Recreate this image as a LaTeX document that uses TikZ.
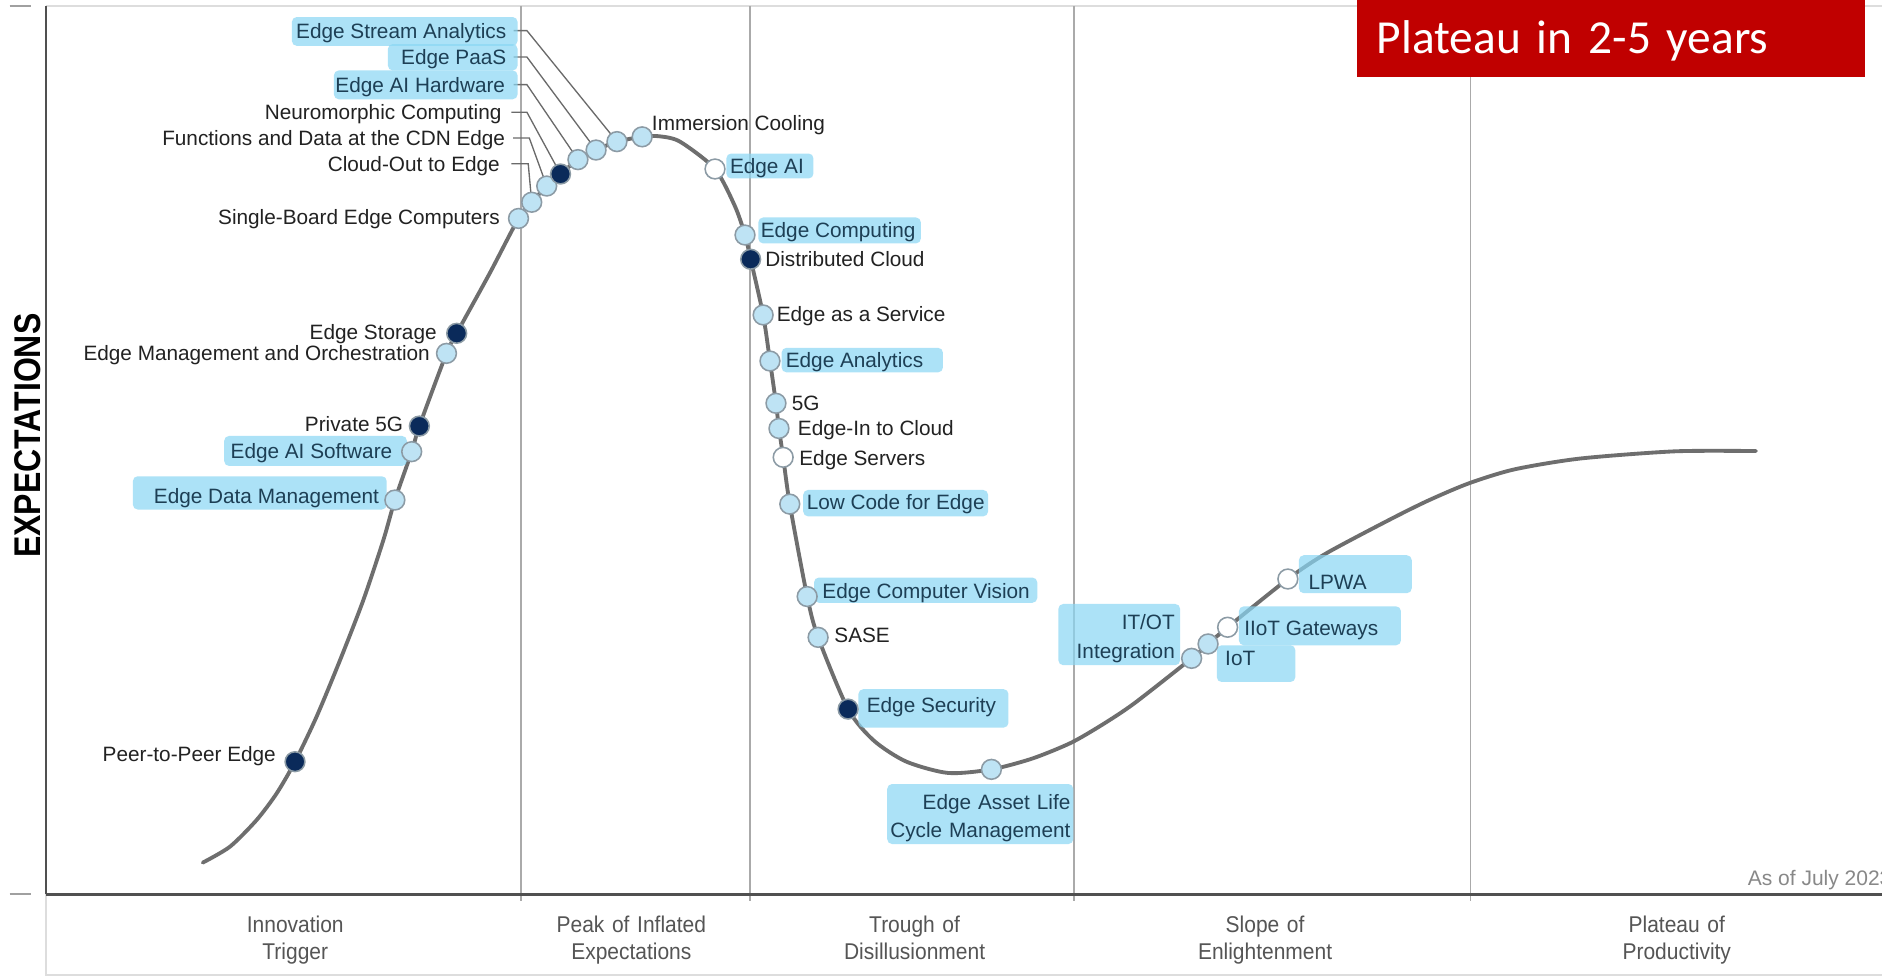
\documentclass[tikz,border=0pt]{standalone}
\usepackage{fontspec}
\setmainfont{Liberation Sans}
\newfontfamily\phasefont[FakeStretch=0.92]{Liberation Sans}
\newfontfamily\expfont[FakeStretch=0.86]{Liberation Sans}
\newfontfamily\plfont{Carlito}
\pgfdeclarelayer{bg}
\pgfdeclarelayer{lines}
\pgfsetlayers{bg,lines,main}
\definecolor{hlc}{HTML}{8AD7F4}
\definecolor{hltext}{HTML}{1D3F55}
\definecolor{lbltext}{HTML}{222222}
\definecolor{ptc}{HTML}{BEE3F4}
\definecolor{ringc}{HTML}{8C9BA5}
\definecolor{navy}{HTML}{0A2A5A}
\definecolor{curvec}{HTML}{6E6E6E}
\definecolor{leadc}{HTML}{6A6A6A}
\definecolor{sepc}{HTML}{AAAAAA}
\definecolor{borderc}{HTML}{DDDDDD}
\definecolor{axisc}{HTML}{505050}
\definecolor{phasec}{HTML}{555555}
\definecolor{redbox}{HTML}{C00000}
\definecolor{asofc}{HTML}{888888}
\tikzset{
  lblfont/.style={font=\fontsize{17.3}{20.8}\selectfont},
  lbl/.style={lblfont, text=lbltext, inner sep=0pt, text height=12.4pt, text depth=0pt},
  hlt/.style={lbl, text=hltext},
  hlbox/.style={fill=hlc, fill opacity=0.7, rounded corners=4pt, inner sep=0pt, anchor=north west},
  pt/.style={circle, draw=ringc, line width=1.3pt, minimum size=16.5pt, inner sep=0pt, fill=ptc},
  ptd/.style={pt, fill=navy},
  ptw/.style={pt, fill=white},
  curve/.style={draw=curvec, line width=3.2pt, line cap=round},
  leader/.style={draw=leadc, line width=1.1pt},
  sep/.style={draw=sepc, line width=1.3pt},
  phase/.style={font=\phasefont\fontsize{19}{23}\selectfont, text=phasec, align=center, text width=220pt, inner sep=0pt, text height=13.6pt, text depth=27pt}
}
\begin{document}
\begin{tikzpicture}[x=1pt,y=-1pt]
\useasboundingbox (0,0) rectangle (1568,813);
\begin{pgfonlayer}{bg}
\fill[white] (0,0) rectangle (1568,813);
\draw[borderc, line width=1.5pt] (38,5) -- (1568,5);
\draw[borderc, line width=1.5pt] (38,745) -- (38,812) -- (1568,812);
\draw[draw=asofc!80, line width=1.6pt] (8,5) -- (26,5);
\draw[draw=asofc!80, line width=1.6pt] (8,745) -- (26,745);
\foreach \sx in {434,625,895,1225} \draw[sep] (\sx,5) -- (\sx,751);
\draw[axisc, line width=1.6pt] (38,5) -- (38,745);
\draw[axisc, line width=2.4pt] (38,745) -- (1568,745);
\end{pgfonlayer}
% axis labels
\node[rotate=90, font=\expfont\bfseries\fontsize{31}{34}\selectfont, text=black, inner sep=0pt] (ylab) at (23,363) {EXPECTATIONS};
\node[phase] (ph1) at (246,783.5) {Innovation\\Trigger};
\node[phase] (ph2) at (526,783.5) {Peak of Inflated\\Expectations};
\node[phase] (ph3) at (762,783.5) {Trough of\\Disillusionment};
\node[phase] (ph4) at (1054,783.5) {Slope of\\Enlightenment};
\node[phase] (ph5) at (1397,783.5) {Plateau of\\Productivity};
\node[anchor=west, inner sep=0pt, font=\fontsize{17.5}{20}\selectfont, text=asofc, text height=12pt, text depth=0pt] (asof) at (1456,731.5) {As of July 2023};
% curve
\draw[curve] plot[smooth, tension=0.45] coordinates {
 (168.9,718.7) (191.6,705.4) (213.8,683.2) (230.5,661) (245.8,634.6) (263.8,597)
 (283.3,550) (302.7,500) (319.4,450) (329,416.6) (343,376.3) (349.4,355)
 (372,294.4) (380.5,277.7) (408,227.7) (432,182)
 (443,168.5) (455.5,155) (467,145) (481.5,133) (496.6,125) (514,118) (535,114)
 (549,113.5) (566.5,118) (595.7,140.8) (612.4,172) (620.7,195.8) (625.4,216)
 (635.8,262.4) (641.5,300.8) (646.5,336) (649,357) (652.5,381) (658,420)
 (672.5,497) (681.6,531) (706.6,590.8) (728,617) (755,634.5) (790,644) (826,641)
 (860,632) (892,619) (918,604) (945,586) (992.8,548.5) (1006.5,536.5) (1022.8,522.6) (1073,482.4)
 (1105,461) (1157.7,433) (1190,417) (1224,402.6) (1262,391) (1316.8,382) (1396,376) (1463,375.8)};
% highlight boxes
\node[hlbox, minimum width=188pt, minimum height=24pt] (besa) at (243,14) {};
\node[hlbox, minimum width=108pt, minimum height=22pt] (bpaas) at (323,36.5) {};
\node[hlbox, minimum width=153pt, minimum height=24pt] (baih) at (278,58.5) {};
\node[hlbox, minimum width=72.5pt, minimum height=20.8pt] (beai) at (605,127.7) {};
\node[hlbox, minimum width=135.4pt, minimum height=21.6pt] (bec) at (631.6,181) {};
\node[hlbox, minimum width=134.4pt, minimum height=20.4pt] (bea) at (651,289.6) {};
\node[hlbox, minimum width=154pt, minimum height=22pt] (blc) at (669,408) {};
\node[hlbox, minimum width=186pt, minimum height=21pt] (becv) at (678,481) {};
\node[hlbox, minimum width=125pt, minimum height=32pt] (besec) at (715,574) {};
\node[hlbox, minimum width=155pt, minimum height=50pt] (bealm) at (739,653) {};
\node[hlbox, minimum width=101.4pt, minimum height=51pt] (bitot) at (881.6,503) {};
\node[hlbox, minimum width=65.4pt, minimum height=30.6pt] (biot) at (1013.6,537.4) {};
\node[hlbox, minimum width=135pt, minimum height=32.4pt] (biiot) at (1032,505) {};
\node[hlbox, minimum width=94pt, minimum height=31.6pt] (blpwa) at (1082,462.4) {};
\node[hlbox, minimum width=152.2pt, minimum height=25pt] (beas) at (186.6,363) {};
\node[hlbox, minimum width=211.5pt, minimum height=27.7pt] (bedm) at (110.5,396.6) {};
% title box
\node[fill=redbox, anchor=north west, minimum height=64pt, inner ysep=0pt, inner xsep=17pt, text width=390pt, align=left, text=white, font=\plfont\fontsize{39.5}{44}\selectfont, text height=25.4pt, text depth=0pt] (title) at (1130,0) {Plateau in 2-5 years};
% plain labels
\node[lbl, anchor=east] (lpeer) at (230,628) {Peer-to-Peer Edge};
\node[lbl, anchor=east] (lest) at (364,276.3) {Edge Storage};
\node[lbl, anchor=east] (lemo) at (358.3,294.4) {Edge Management and Orchestration};
\node[lbl, anchor=east] (lp5g) at (336,353.5) {Private 5G};
\node[lbl, anchor=east] (lsb) at (416.6,180.5) {Single-Board Edge Computers};
\node[lbl, anchor=east] (lco) at (416.6,136.5) {Cloud-Out to Edge};
\node[lbl, anchor=east] (lfd) at (421,115) {Functions and Data at the CDN Edge};
\node[lbl, anchor=east] (lnc) at (418,93.5) {Neuromorphic Computing};
\node[lbl, anchor=west] (lic) at (543,102.5) {Immersion Cooling};
\node[lbl, anchor=west] (ldc) at (637.4,216) {Distributed Cloud};
\node[lbl, anchor=west] (leaas) at (647,261.5) {Edge as a Service};
\node[lbl, anchor=west] (l5g) at (659.6,336) {5G};
\node[lbl, anchor=west] (leic) at (664.6,356.6) {Edge-In to Cloud};
\node[lbl, anchor=west] (les) at (665.8,381.6) {Edge Servers};
\node[lbl, anchor=west] (lsase) at (695,529) {SASE};
% highlighted label texts
\node[hlt, anchor=east] (lesa) at (422,25.5) {Edge Stream Analytics};
\node[hlt, anchor=east] (lpaas) at (422,47.5) {Edge PaaS};
\node[hlt, anchor=east] (laih) at (421,70.5) {Edge AI Hardware};
\node[hlt, anchor=west] (leai) at (608,138) {Edge AI};
\node[hlt, anchor=west] (lec) at (633.7,191.8) {Edge Computing};
\node[hlt, anchor=west] (lea) at (654.5,300) {Edge Analytics};
\node[hlt, anchor=west] (llc) at (672,418.5) {Low Code for Edge};
\node[hlt, anchor=west] (lecv) at (685,492.5) {Edge Computer Vision};
\node[hlt, anchor=west] (lesec) at (722,587.5) {Edge Security};
\node[hlt, anchor=north east, text width=170pt, align=right, font=\fontsize{17.3}{23}\selectfont] (lealm) at (892,661.8) {Edge Asset Life\\Cycle Management};
\node[hlt, anchor=north east, text width=110pt, align=right, font=\fontsize{17.3}{24.4}\selectfont] (litot) at (979,511.8) {IT/OT\\Integration};
\node[hlt, anchor=west] (liot) at (1020.6,548.5) {IoT};
\node[hlt, anchor=west] (liiot) at (1036.5,523) {IIoT Gateways};
\node[hlt, anchor=west] (llpwa) at (1090,485) {LPWA};
\node[hlt, anchor=east] (leas) at (327,376) {Edge AI Software};
\node[hlt, anchor=east] (ledm) at (316,413) {Edge Data Management};
% circles
\node[ptd] (c1) at (245.8,634.6) {};
\node[pt] (c2) at (329,416.6) {};
\node[pt] (c3) at (343,376.3) {};
\node[ptd] (c4) at (349.4,355) {};
\node[pt] (c5) at (372,294.4) {};
\node[ptd] (c6) at (380.5,277.7) {};
\node[pt] (c7) at (432,182) {};
\node[pt] (c8) at (443,168.5) {};
\node[pt] (c9) at (455.5,155) {};
\node[ptd] (c10) at (467,145) {};
\node[pt] (c11) at (481.5,133) {};
\node[pt] (c12) at (496.6,125) {};
\node[pt] (c13) at (514,118) {};
\node[pt] (c14) at (535,114) {};
\node[ptw] (c15) at (595.7,140.8) {};
\node[pt] (c16) at (620.7,195.8) {};
\node[ptd] (c17) at (625.4,216) {};
\node[pt] (c18) at (635.8,262.4) {};
\node[pt] (c19) at (641.5,300.8) {};
\node[pt] (c20) at (646.5,336) {};
\node[pt] (c21) at (649,357) {};
\node[ptw] (c22) at (652.5,381) {};
\node[pt] (c23) at (658,420) {};
\node[pt] (c24) at (672.5,497) {};
\node[pt] (c25) at (681.6,531) {};
\node[ptd] (c26) at (706.6,590.8) {};
\node[pt] (c27) at (826,641) {};
\node[pt] (c28) at (992.8,548.5) {};
\node[pt] (c29) at (1006.5,536.5) {};
\node[ptw] (c30) at (1022.8,522.6) {};
\node[ptw] (c31) at (1073,482.4) {};
% leader lines, under the circles
\begin{pgfonlayer}{lines}
\draw[leader] ([xshift=6pt]lesa.east) -- ++(11,0) -- (c13.center);
\draw[leader] ([xshift=6pt]lpaas.east) -- ++(11,0) -- (c12.center);
\draw[leader] ([xshift=7pt]laih.east) -- ++(11,0) -- (c11.center);
\draw[leader] ([xshift=8pt]lnc.east) -- ++(13,0) -- (c10.center);
\draw[leader] ([xshift=6.5pt]lfd.east) -- ++(13.5,0) -- (c9.center);
\draw[leader] ([xshift=9.5pt]lco.east) -- ++(14,0) -- (c8.center);
\end{pgfonlayer}
\end{tikzpicture}
\end{document}
